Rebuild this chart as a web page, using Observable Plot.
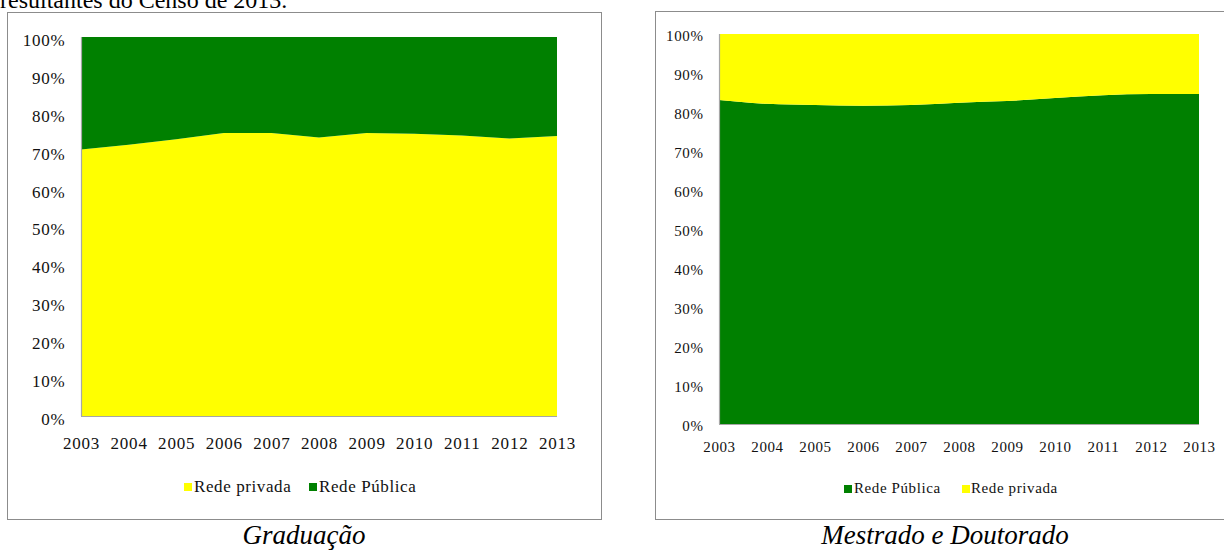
<!DOCTYPE html>
<html>
<head>
<meta charset="utf-8">
<script src="https://cdn.jsdelivr.net/npm/d3@7"></script>
<script src="https://cdn.jsdelivr.net/npm/@observablehq/plot@0.6"></script>
<style>
  html, body { margin:0; padding:0; background:#fff; }
  body { width:1224px; height:552px; overflow:hidden; position:relative; font-family:"Liberation Serif", serif; color:#111; }
  .abs { position:absolute; white-space:nowrap; }
  .box { position:absolute; border:1px solid #8c8c8c; box-sizing:border-box; }
  .sq { position:absolute; width:8px; height:8px; }
  .cap { position:absolute; font-style:italic; font-size:27px; line-height:27px; text-align:center; color:#000; }
</style>
</head>
<body>
<div class="abs" style="left:0;top:-12px;font-size:24px;line-height:24px;color:#000;font-family:'Liberation Serif',serif">resultantes do Censo de 2013.</div>

<div class="box" style="left:7px;top:12px;width:595px;height:508px"></div>
<div class="box" style="left:655px;top:11px;width:595px;height:509px"></div>

<div id="c1" class="abs" style="left:8px;top:13px"></div>
<div id="c2" class="abs" style="left:656px;top:12px"></div>

<div id="leg1"></div>
<div id="leg2"></div>

<div class="cap" style="left:104px;top:522px;width:400px">Graduação</div>
<div class="cap" style="left:745px;top:522px;width:400px">Mestrado e Doutorado</div>

<script>
// ---- data ----
const years = [2003, 2004, 2005, 2006, 2007, 2008, 2009, 2010, 2011, 2012, 2013];
const series = ["Rede privada", "Rede Pública"];
const seriesColors = ["#FFFF00", "#008000"];
// Graduação (% of enrolments)
const gradPrivada = [70.3, 71.6, 73.0, 74.7, 74.7, 73.5, 74.7, 74.5, 74.0, 73.2, 73.9];
const gradPublica = [29.7, 28.4, 27.0, 25.3, 25.3, 26.5, 25.3, 25.5, 26.0, 26.8, 26.1];
// Mestrado e Doutorado (% of enrolments)
const posPublica = [83.1, 82.1, 81.8, 81.6, 81.8, 82.4, 82.8, 83.6, 84.3, 84.6, 84.6];
const posPrivada = [16.9, 17.9, 18.2, 18.4, 18.2, 17.6, 17.2, 16.4, 15.7, 15.4, 15.4];
const yTicks = [0, 10, 20, 30, 40, 50, 60, 70, 80, 90, 100];

function rowsOf(pairs) {
  const out = [];
  for (const [name, vals] of pairs) vals.forEach((v, i) => out.push({year: years[i], rede: name, v}));
  return out;
}

function makeChart(rows, order, o) {
  return Plot.plot({
    width: o.width, height: o.height,
    marginLeft: o.ml, marginRight: o.mr, marginTop: o.mt, marginBottom: o.mb,
    style: {fontFamily: "'Liberation Serif', serif", fontSize: o.fs + "px", color: "#111", background: "transparent", letterSpacing: o.ls + "px", overflow: "visible"},
    x: {type: "linear", domain: [2003, 2013]},
    y: {domain: [0, 100]},
    color: {domain: series, range: seriesColors},
    marks: [
      Plot.areaY(rows, {x: "year", y: "v", fill: "rede", z: "rede", order: order, curve: o.curve}),
      Plot.ruleX([2003], {stroke: "#a6a6a6", strokeWidth: 1.2}),
      Plot.ruleY([0], {stroke: "#a6a6a6", strokeWidth: 1.2}),
      Plot.axisX({ticks: years, tickFormat: d => String(d), tickSize: 0, tickPadding: o.xpad, label: null, fill: "#111"}),
      Plot.axisY({ticks: yTicks, tickFormat: d => d + "%", tickSize: 0, tickPadding: 16, label: null, dy: o.ydy, fill: "#111"})
    ]
  });
}

const rows1 = rowsOf([["Rede privada", gradPrivada], ["Rede Pública", gradPublica]]);
const rows2 = rowsOf([["Rede Pública", posPublica], ["Rede privada", posPrivada]]);

document.getElementById("c1").append(makeChart(rows1, ["Rede privada", "Rede Pública"],
  {width: 593, height: 460, ml: 73, mr: 44, mt: 24, mb: 57, fs: 17, ls: 0.8, xpad: 20, ydy: 3, curve: "linear"}));
document.getElementById("c2").append(makeChart(rows2, ["Rede Pública", "Rede privada"],
  {width: 568, height: 460, ml: 63, mr: 25, mt: 22, mb: 48, fs: 15, ls: 0.6, xpad: 17, ydy: 2, curve: "monotone-x"}));

// ---- legends ----
function legend(el, items, fs, top, sqTop) {
  const host = document.getElementById(el);
  for (const it of items) {
    const s = document.createElement("div");
    s.className = "sq";
    s.style.left = it.sx + "px"; s.style.top = sqTop + "px";
    s.style.background = seriesColors[series.indexOf(it.name)];
    host.append(s);
    const t = document.createElement("div");
    t.className = "abs";
    t.style.left = it.tx + "px"; t.style.top = top + "px";
    t.style.fontSize = fs + "px"; t.style.lineHeight = fs + "px";
    t.style.letterSpacing = "0.6px";
    t.textContent = it.name;
    host.append(t);
  }
}
legend("leg1", [{name: "Rede privada", sx: 184, tx: 194}, {name: "Rede Pública", sx: 309, tx: 319}], 17, 478, 483);
legend("leg2", [{name: "Rede Pública", sx: 844, tx: 854}, {name: "Rede privada", sx: 962, tx: 971}], 15, 481, 485);
</script>
</body>
</html>
